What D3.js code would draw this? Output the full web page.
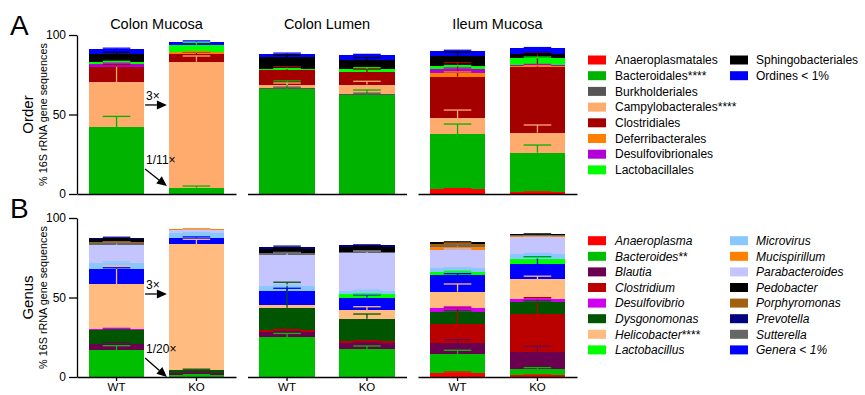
<!DOCTYPE html>
<html>
<head>
<meta charset="utf-8">
<script src="https://cdn.jsdelivr.net/npm/d3@7"></script>
<style>
  body { margin: 0; background: #fff; }
  text { font-family: Arial, "Liberation Sans", sans-serif; fill: #000; }
</style>
</head>
<body>
<div id="chart"></div>
<script>

const groups = ['Colon Mucosa', 'Colon Lumen', 'Ileum Mucosa'];
const genotypes = ['WT', 'KO'];

// ---- panel A : order level (bottom -> top, same as legend)
const orderNames = ['Anaeroplasmatales', 'Bacteroidales****', 'Burkholderiales', 'Campylobacterales****',
    'Clostridiales', 'Deferribacterales', 'Desulfovibrionales', 'Lactobacillales',
    'Sphingobacteriales', 'Ordines < 1%'];
const orderColors = ['#ff0000', '#00b300', '#555555', '#ffab6e', '#a50000', '#ff8000',
    '#b400d8', '#00ff00', '#000000', '#0000ff'];

const orderCMWT = [0, 42.1, 0, 28.1, 9.9, 0, 1.7, 1.0, 5.1, 3.3];
const orderCMKO = [0, 4.0, 0, 79.2, 4.7, 1.2, 0, 4.8, 0.1, 1.9];
const orderCLWT = [0, 65.8, 1.1, 1.7, 9.4, 0, 0, 0.6, 7.4, 2.1];
const orderCLKO = [0, 62.1, 1.0, 5.7, 7.9, 0, 0, 1.9, 5.7, 2.9];
const orderIMWT = [2.9, 34.6, 0, 10.3, 26.0, 2.5, 2.3, 1.7, 6.7, 2.9];
const orderIMKO = [1.0, 25.0, 0, 12.6, 41.1, 0.8, 0.8, 4.0, 2.6, 3.7];

const orderErrCMWT = [0, 6.7, 0, 11.8, 1.5, 0, 0.5, 0.6, 1.2, 0.5];
const orderErrCMKO = [0, 1.0, 0, 3.6, 1.2, 0.3, 0, 1.5, 0, 0.4];
const orderErrCLWT = [0, 5.4, 0.3, 1.2, 2.1, 0, 0, 0.3, 1.4, 0.5];
const orderErrCLKO = [0, 3.3, 0.3, 2.1, 1.8, 0, 0, 0.8, 1.5, 0.6];
const orderErrIMWT = [0.5, 6.5, 0, 5.0, 8.8, 0.5, 0.6, 0.5, 2.3, 0.5];
const orderErrIMKO = [0.3, 4.8, 0, 4.8, 8.8, 0.2, 0.2, 0.8, 0.5, 0.5];

// ---- panel B : genus level (stack order bottom -> top)
const genusNames = ['Anaeroplasma', 'Bacteroides**', 'Blautia', 'Clostridium', 'Dysgonomonas',
    'Desulfovibrio', 'Helicobacter****', 'Genera < 1%', 'Lactobacillus', 'Microvirus',
    'Parabacteroides', 'Mucispirillum', 'Sutterella', 'Porphyromonas', 'Pedobacter', 'Prevotella'];
const genusColors = ['#ff0000', '#00bf00', '#6b0050', '#bb0000', '#005500',
    '#d000f0', '#ffbb80', '#0000ff', '#00ff00', '#88c8ff',
    '#c4c4ff', '#ff8000', '#666666', '#a06010', '#000000', '#000080'];
// legend order
const genusLegend = ['Anaeroplasma', 'Bacteroides**', 'Blautia', 'Clostridium', 'Desulfovibrio',
    'Dysgonomonas', 'Helicobacter****', 'Lactobacillus', 'Microvirus', 'Mucispirillum',
    'Parabacteroides', 'Pedobacter', 'Porphyromonas', 'Prevotella', 'Sutterella', 'Genera < 1%'];

const genusCMWT = [0, 16.8, 3.8, 0.3, 8.6, 0.8, 28.0, 9.9, 0, 3.7, 11.3, 0, 0.8, 0.8, 1.8, 1.0];
const genusCMKO = [0, 1.2, 1.6, 0, 1.8, 0, 78.8, 4.2, 0, 2.8, 1.9, 0.7, 0, 0.3, 0, 0];
const genusCLWT = [0, 25.2, 2.9, 1.5, 14.0, 0, 1.7, 9.0, 0, 3.1, 19.1, 0, 1.3, 0, 2.7, 1.5];
const genusCLKO = [0, 17.4, 4.0, 1.2, 14.1, 0, 5.4, 7.9, 1.9, 2.3, 23.5, 0, 1.2, 0, 2.6, 1.3];
const genusIMWT = [2.7, 11.6, 7.1, 11.7, 8.0, 2.5, 10.1, 10.5, 2.0, 2.2, 11.5, 1.9, 0.8, 1.0, 1.1, 0];
const genusIMKO = [1.0, 4.0, 10.5, 23.9, 8.0, 1.5, 12.5, 9.5, 3.3, 3.0, 10.7, 0.6, 0.5, 0, 0.7, 0];

const genusErrCMWT = [0, 2.9, 1.0, 0, 0.6, 0.3, 11.5, 0.5, 0, 0.5, 1.7, 0, 0.3, 0.3, 0.3, 0.3];
const genusErrCMKO = [0, 0.3, 0.3, 0, 0.3, 0, 3.2, 0.5, 0, 0.3, 0.3, 0.2, 0, 0, 0, 0];
const genusErrCLWT = [0, 2.2, 0.6, 0.3, 16.0, 0, 0, 1.5, 0, 0.5, 1.8, 0, 0.4, 0, 0.5, 0.3];
const genusErrCLKO = [0, 2.1, 0.6, 0.3, 2.9, 0, 2.1, 1.6, 0.3, 0.4, 1.5, 0, 0.4, 0, 0.4, 0.3];
const genusErrIMWT = [0.4, 2.5, 2.1, 10.5, 0.5, 0.5, 4.8, 0.8, 0.3, 0.3, 0.6, 2.7, 0.2, 0.3, 0.3, 0];
const genusErrIMKO = [0.2, 0.9, 3.8, 10.5, 0.5, 0.3, 2.0, 4.8, 1.2, 0.5, 0.8, 0.3, 0.2, 0, 0.3, 0];


const svg = d3.select('#chart').append('svg')
    .attr('width', 865)
    .attr('height', 395);

const groupScale = d3.scaleBand()
    .domain(groups)
    .range([77, 577])
    .paddingInner(0.0675);

const barScale = d3.scaleBand()
    .domain(genotypes)
    .range([0, groupScale.bandwidth()])
    .paddingInner(0.31)
    .paddingOuter(0.15);


function drawPanel(opt) {
    const yScale = d3.scaleLinear()
        .domain([0, 100])
        .range([opt.bottom, opt.top]);

    const g = svg.append('g');

    // rows for d3.stack
    const rows = opt.bars.map((vals, i) => {
        const r = { group: groups[Math.floor(i / 2)], genotype: genotypes[i % 2], idx: i };
        opt.names.forEach((n, j) => r[n] = vals[j]);
        return r;
    });
    const series = d3.stack().keys(opt.names)(rows);

    const xOf = d => groupScale(d.data.group) + barScale(d.data.genotype);

    series.forEach((s, j) => {
        g.append('g')
            .selectAll('rect')
            .data(s.filter(d => d[1] - d[0] > 0))
            .join('rect')
            .attr('x', xOf)
            .attr('y', d => yScale(d[1]))
            .attr('width', barScale.bandwidth())
            .attr('height', d => yScale(d[0]) - yScale(d[1]))
            .attr('fill', opt.colors[j])
            .attr('shape-rendering', 'crispEdges');
    });

    // error bars (upwards only), in the colour of the segment
    const cap = barScale.bandwidth() / 2;
    series.forEach((s, j) => {
        s.forEach(d => {
            const e = opt.errs[d.data.idx][j];
            if (!(e > 0) || d[1] - d[0] <= 0) return;
            const cx = xOf(d) + barScale.bandwidth() / 2;
            const yTop = yScale(d[1] + e);
            g.append('line')
                .attr('x1', cx).attr('x2', cx)
                .attr('y1', yScale(d[1])).attr('y2', yTop)
                .attr('stroke', opt.colors[j]).attr('stroke-width', 1.3);
            g.append('line')
                .attr('x1', cx - cap / 2).attr('x2', cx + cap / 2)
                .attr('y1', yTop).attr('y2', yTop)
                .attr('stroke', opt.colors[j]).attr('stroke-width', 1.3);
        });
    });

    // y axis
    const yAxis = g.append('g')
        .attr('transform', `translate(${groupScale(groups[0])},0)`)
        .call(d3.axisLeft(yScale).tickValues([0, 50, 100]).tickSize(8).tickSizeOuter(0).tickPadding(3));
    yAxis.selectAll('text').style('font-size', '12px');
    yAxis.selectAll('path, line').attr('stroke-width', 1.3);

    // baselines per group
    groups.forEach(gr => {
        const ax = g.append('g')
            .attr('transform', `translate(${groupScale(gr)},${yScale(0)})`)
            .call(d3.axisBottom(barScale)
                .tickSize(opt.xLabels ? 4 : 0)
                .tickSizeOuter(0)
                .tickPadding(2)
                .tickFormat(opt.xLabels ? (d => d) : ''));
        ax.selectAll('text').style('font-size', '11.5px');
        ax.selectAll('path, line').attr('stroke-width', 1.3);
    });

    // axis titles
    const midY = (opt.top + opt.bottom) / 2;
    g.append('text')
        .attr('transform', `translate(33,${midY}) rotate(-90)`)
        .attr('text-anchor', 'middle')
        .style('font-size', '15px')
        .text(opt.label);
    g.append('text')
        .attr('transform', `translate(46.5,${midY}) rotate(-90)`)
        .attr('text-anchor', 'middle')
        .style('font-size', '10.8px')
        .text('% 16S rRNA gene sequences');

    // panel letter
    g.append('text')
        .attr('x', 10)
        .attr('y', opt.top)
        .style('font-size', '28px')
        .text(opt.letter);

    // fold-change annotations between WT and KO of colon mucosa
    const x0 = groupScale(groups[0]) + barScale('WT') + barScale.bandwidth() + 1;
    const x1 = groupScale(groups[0]) + barScale('KO');
    opt.notes.forEach(n => {
        const ax1 = x0, ay1 = yScale(n.from), ax2 = x1 - 2, ay2 = yScale(n.to);
        g.append('text')
            .attr('x', x0 + 1)
            .attr('y', ay1 - 5)
            .style('font-size', '12px')
            .text(n.text);
        const ang = Math.atan2(ay2 - ay1, ax2 - ax1);
        const hl = 10, hw = 4.5;
        const bx = ax2 - hl * Math.cos(ang), by = ay2 - hl * Math.sin(ang);
        g.append('line')
            .attr('x1', ax1).attr('y1', ay1)
            .attr('x2', bx).attr('y2', by)
            .attr('stroke', '#000').attr('stroke-width', 1.3);
        const p = d3.path();
        p.moveTo(ax2, ay2);
        p.lineTo(bx - hw * Math.sin(ang), by + hw * Math.cos(ang));
        p.lineTo(bx + hw * Math.sin(ang), by - hw * Math.cos(ang));
        p.closePath();
        g.append('path').attr('d', p.toString()).attr('fill', '#000');
    });

    // legend
    const leg = g.append('g');
    opt.legend.forEach((name, i) => {
        const col = Math.floor(i / 8), row = i % 8;
        const ly = opt.legendTop + row * opt.legendStep;
        const lx = col === 0 ? 588 : 730;
        leg.append('rect')
            .attr('x', lx).attr('y', ly - 4.5)
            .attr('width', 18).attr('height', 9)
            .attr('fill', opt.colors[opt.names.indexOf(name)]);
        const t = leg.append('text')
            .attr('x', lx + (col === 0 ? 27 : 26))
            .attr('y', ly)
            .attr('dy', '0.35em')
            .style('font-size', '12px');
        if (opt.italic) {
            const m = name.match(/^([^*]+)(\**)$/);
            const base = m ? m[1] : name;
            const stars = m ? m[2] : '';
            t.append('tspan').style('font-style', 'italic').text(base);
            if (stars) t.append('tspan').text(stars);
        } else {
            t.text(name);
        }
    });
}

// group titles
svg.selectAll('.title')
    .data(groups)
    .join('text')
    .attr('class', 'title')
    .attr('x', d => groupScale(d) + groupScale.bandwidth() / 2)
    .attr('y', 29)
    .attr('text-anchor', 'middle')
    .style('font-size', '14.5px')
    .text(d => d);

drawPanel({
    top: 35, bottom: 194,
    names: orderNames, colors: orderColors, legend: orderNames,
    bars: [orderCMWT, orderCMKO, orderCLWT, orderCLKO, orderIMWT, orderIMKO],
    errs: [orderErrCMWT, orderErrCMKO, orderErrCLWT, orderErrCLKO, orderErrIMWT, orderErrIMKO],
    label: 'Order', letter: 'A', xLabels: false, italic: false,
    legendTop: 60, legendStep: 15.7,
    notes: [{ text: '3×', from: 56, to: 56 }, { text: '1/11×', from: 15.7, to: 5 }]
});

drawPanel({
    top: 218, bottom: 377,
    names: genusNames, colors: genusColors, legend: genusLegend,
    bars: [genusCMWT, genusCMKO, genusCLWT, genusCLKO, genusIMWT, genusIMKO],
    errs: [genusErrCMWT, genusErrCMKO, genusErrCLWT, genusErrCLKO, genusErrIMWT, genusErrIMKO],
    label: 'Genus', letter: 'B', xLabels: true, italic: true,
    legendTop: 240.7, legendStep: 15.6,
    notes: [{ text: '3×', from: 52.2, to: 52.2 }, { text: '1/20×', from: 12, to: 0 }]
});

</script>
</body>
</html>
